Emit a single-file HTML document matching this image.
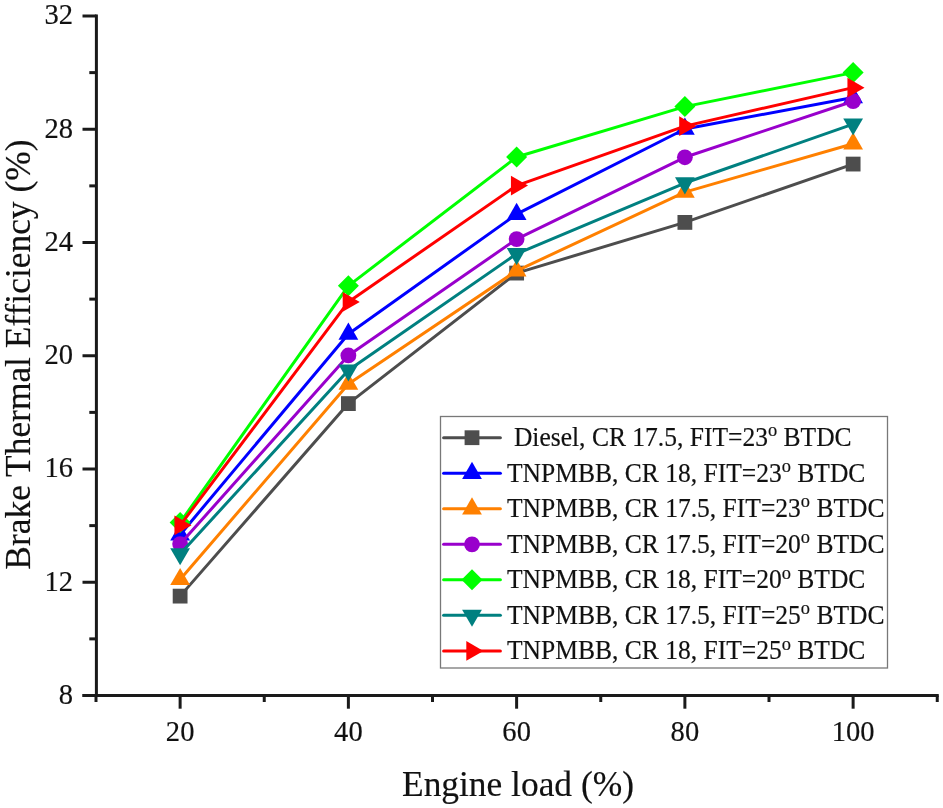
<!DOCTYPE html>
<html><head><meta charset="utf-8"><title>Brake Thermal Efficiency</title>
<style>
html,body{margin:0;padding:0;background:#fff;}
svg{display:block;filter:blur(0.4px);}
text{font-family:"Liberation Serif",serif;fill:#111;stroke:#111;stroke-width:0.18px;}
</style></head><body>
<svg width="943" height="808" viewBox="0 0 943 808">
<rect width="943" height="808" fill="#fff"/>
<g stroke="#1a1a1a" stroke-width="3" fill="none" stroke-linecap="butt">
<line x1="96.4" y1="14.5" x2="96.4" y2="697"/>
<line x1="82.5" y1="695.5" x2="938.75" y2="695.5"/>
<line x1="82.5" y1="695.50" x2="96.4" y2="695.50"/>
<line x1="89.3" y1="638.88" x2="96.4" y2="638.88"/>
<line x1="82.5" y1="582.25" x2="96.4" y2="582.25"/>
<line x1="89.3" y1="525.62" x2="96.4" y2="525.62"/>
<line x1="82.5" y1="469.00" x2="96.4" y2="469.00"/>
<line x1="89.3" y1="412.38" x2="96.4" y2="412.38"/>
<line x1="82.5" y1="355.75" x2="96.4" y2="355.75"/>
<line x1="89.3" y1="299.12" x2="96.4" y2="299.12"/>
<line x1="82.5" y1="242.50" x2="96.4" y2="242.50"/>
<line x1="89.3" y1="185.88" x2="96.4" y2="185.88"/>
<line x1="82.5" y1="129.25" x2="96.4" y2="129.25"/>
<line x1="89.3" y1="72.62" x2="96.4" y2="72.62"/>
<line x1="82.5" y1="16.00" x2="96.4" y2="16.00"/>
<line x1="96.00" y1="695.5" x2="96.00" y2="702"/>
<line x1="180.12" y1="695.5" x2="180.12" y2="708.7"/>
<line x1="264.25" y1="695.5" x2="264.25" y2="702"/>
<line x1="348.38" y1="695.5" x2="348.38" y2="708.7"/>
<line x1="432.50" y1="695.5" x2="432.50" y2="702"/>
<line x1="516.62" y1="695.5" x2="516.62" y2="708.7"/>
<line x1="600.75" y1="695.5" x2="600.75" y2="702"/>
<line x1="684.88" y1="695.5" x2="684.88" y2="708.7"/>
<line x1="769.00" y1="695.5" x2="769.00" y2="702"/>
<line x1="853.12" y1="695.5" x2="853.12" y2="708.7"/>
<line x1="937.25" y1="695.5" x2="937.25" y2="702"/>
</g>
<g font-size="29.4">
<text transform="translate(73,703.80) scale(0.972,1)" text-anchor="end">8</text>
<text transform="translate(73,590.55) scale(0.972,1)" text-anchor="end">12</text>
<text transform="translate(73,477.30) scale(0.972,1)" text-anchor="end">16</text>
<text transform="translate(73,364.05) scale(0.972,1)" text-anchor="end">20</text>
<text transform="translate(73,250.80) scale(0.972,1)" text-anchor="end">24</text>
<text transform="translate(73,137.55) scale(0.972,1)" text-anchor="end">28</text>
<text transform="translate(73,24.30) scale(0.972,1)" text-anchor="end">32</text>
<text transform="translate(180.12,740.8) scale(0.972,1)" text-anchor="middle">20</text>
<text transform="translate(348.38,740.8) scale(0.972,1)" text-anchor="middle">40</text>
<text transform="translate(516.62,740.8) scale(0.972,1)" text-anchor="middle">60</text>
<text transform="translate(684.88,740.8) scale(0.972,1)" text-anchor="middle">80</text>
<text transform="translate(853.12,740.8) scale(0.972,1)" text-anchor="middle">100</text>
</g>
<text x="518.0" y="795.8" font-size="35.4" text-anchor="middle">Engine load (%)</text>
<text transform="translate(29.7,354.6) rotate(-90)" font-size="35.4" text-anchor="middle">Brake Thermal Efficiency (%)</text>
<polyline points="180.12,596.12 348.38,403.60 516.62,273.08 684.88,222.40 853.12,164.07" fill="none" stroke="#4d4d4d" stroke-width="3.0" stroke-linejoin="round" stroke-linecap="round"/>
<rect x="172.72" y="588.72" width="14.80" height="14.80" fill="#4d4d4d"/>
<rect x="340.98" y="396.20" width="14.80" height="14.80" fill="#4d4d4d"/>
<rect x="509.23" y="265.68" width="14.80" height="14.80" fill="#4d4d4d"/>
<rect x="677.48" y="215.00" width="14.80" height="14.80" fill="#4d4d4d"/>
<rect x="845.73" y="156.67" width="14.80" height="14.80" fill="#4d4d4d"/>
<polyline points="180.12,534.68 348.38,333.95 516.62,214.19 684.88,128.97 853.12,97.54" fill="none" stroke="#0000ff" stroke-width="3.0" stroke-linejoin="round" stroke-linecap="round"/>
<polygon points="180.12,523.28 190.03,540.38 170.22,540.38" fill="#0000ff"/>
<polygon points="348.38,322.55 358.27,339.65 338.48,339.65" fill="#0000ff"/>
<polygon points="516.62,202.79 526.52,219.89 506.73,219.89" fill="#0000ff"/>
<polygon points="684.88,117.57 694.77,134.67 674.98,134.67" fill="#0000ff"/>
<polygon points="853.12,86.14 863.02,103.24 843.23,103.24" fill="#0000ff"/>
<polyline points="180.12,579.42 348.38,384.06 516.62,270.81 684.88,192.10 853.12,143.69" fill="none" stroke="#ff8000" stroke-width="3.0" stroke-linejoin="round" stroke-linecap="round"/>
<polygon points="180.12,568.02 190.03,585.12 170.22,585.12" fill="#ff8000"/>
<polygon points="348.38,372.66 358.27,389.76 338.48,389.76" fill="#ff8000"/>
<polygon points="516.62,259.41 526.52,276.51 506.73,276.51" fill="#ff8000"/>
<polygon points="684.88,180.70 694.77,197.80 674.98,197.80" fill="#ff8000"/>
<polygon points="853.12,132.29 863.02,149.39 843.23,149.39" fill="#ff8000"/>
<polyline points="180.12,544.03 348.38,355.47 516.62,239.10 684.88,157.28 853.12,101.22" fill="none" stroke="#9900cc" stroke-width="3.0" stroke-linejoin="round" stroke-linecap="round"/>
<circle cx="180.12" cy="544.03" r="7.9" fill="#9900cc"/>
<circle cx="348.38" cy="355.47" r="7.9" fill="#9900cc"/>
<circle cx="516.62" cy="239.10" r="7.9" fill="#9900cc"/>
<circle cx="684.88" cy="157.28" r="7.9" fill="#9900cc"/>
<circle cx="853.12" cy="101.22" r="7.9" fill="#9900cc"/>
<polyline points="180.12,522.51 348.38,285.82 516.62,157.00 684.88,106.60 853.12,72.62" fill="none" stroke="#00ff00" stroke-width="3.0" stroke-linejoin="round" stroke-linecap="round"/>
<polygon points="180.12,512.01 190.62,522.51 180.12,533.01 169.62,522.51" fill="#00ff00"/>
<polygon points="348.38,275.32 358.88,285.82 348.38,296.32 337.88,285.82" fill="#00ff00"/>
<polygon points="516.62,146.50 527.12,157.00 516.62,167.50 506.12,157.00" fill="#00ff00"/>
<polygon points="684.88,96.10 695.38,106.60 684.88,117.10 674.38,106.60" fill="#00ff00"/>
<polygon points="853.12,62.12 863.62,72.62 853.12,83.12 842.62,72.62" fill="#00ff00"/>
<polyline points="180.12,553.94 348.38,370.19 516.62,253.82 684.88,183.04 853.12,124.15" fill="none" stroke="#008080" stroke-width="3.0" stroke-linejoin="round" stroke-linecap="round"/>
<polygon points="180.12,565.34 190.03,548.24 170.22,548.24" fill="#008080"/>
<polygon points="348.38,381.59 358.27,364.49 338.48,364.49" fill="#008080"/>
<polygon points="516.62,265.22 526.52,248.12 506.73,248.12" fill="#008080"/>
<polygon points="684.88,194.44 694.77,177.34 674.98,177.34" fill="#008080"/>
<polygon points="853.12,135.55 863.02,118.45 843.23,118.45" fill="#008080"/>
<polyline points="180.12,525.34 348.38,301.96 516.62,185.59 684.88,126.14 853.12,87.63" fill="none" stroke="#ff0000" stroke-width="3.0" stroke-linejoin="round" stroke-linecap="round"/>
<polygon points="191.53,525.34 174.43,515.44 174.43,535.24" fill="#ff0000"/>
<polygon points="359.77,301.96 342.68,292.06 342.68,311.86" fill="#ff0000"/>
<polygon points="528.02,185.59 510.93,175.69 510.93,195.49" fill="#ff0000"/>
<polygon points="696.27,126.14 679.17,116.24 679.17,136.04" fill="#ff0000"/>
<polygon points="864.52,87.63 847.42,77.73 847.42,97.53" fill="#ff0000"/>
<rect x="440.5" y="416.5" width="447" height="251.5" fill="#fff" stroke="#787878" stroke-width="1.3"/>
<line x1="443.6" y1="437.70" x2="500.4" y2="437.70" stroke="#4d4d4d" stroke-width="3.0" stroke-linecap="round"/>
<rect x="464.60" y="430.30" width="14.80" height="14.80" fill="#4d4d4d"/>
<text transform="translate(513.9,446.20) scale(0.946,1)" font-size="27">Diesel, CR 17.5, FIT=23<tspan font-size="19.5" dy="-9.8">o</tspan><tspan dy="9.8"> BTDC</tspan></text>
<line x1="443.6" y1="473.23" x2="500.4" y2="473.23" stroke="#0000ff" stroke-width="3.0" stroke-linecap="round"/>
<polygon points="472.00,461.83 481.90,478.93 462.10,478.93" fill="#0000ff"/>
<text transform="translate(507.0,481.73) scale(0.946,1)" font-size="27">TNPMBB, CR 18, FIT=23<tspan font-size="19.5" dy="-9.8">o</tspan><tspan dy="9.8"> BTDC</tspan></text>
<line x1="443.6" y1="508.76" x2="500.4" y2="508.76" stroke="#ff8000" stroke-width="3.0" stroke-linecap="round"/>
<polygon points="472.00,497.36 481.90,514.46 462.10,514.46" fill="#ff8000"/>
<text transform="translate(507.0,517.26) scale(0.946,1)" font-size="27">TNPMBB, CR 17.5, FIT=23<tspan font-size="19.5" dy="-9.8">o</tspan><tspan dy="9.8"> BTDC</tspan></text>
<line x1="443.6" y1="544.29" x2="500.4" y2="544.29" stroke="#9900cc" stroke-width="3.0" stroke-linecap="round"/>
<circle cx="472.00" cy="544.29" r="7.9" fill="#9900cc"/>
<text transform="translate(507.0,552.79) scale(0.946,1)" font-size="27">TNPMBB, CR 17.5, FIT=20<tspan font-size="19.5" dy="-9.8">o</tspan><tspan dy="9.8"> BTDC</tspan></text>
<line x1="443.6" y1="579.82" x2="500.4" y2="579.82" stroke="#00ff00" stroke-width="3.0" stroke-linecap="round"/>
<polygon points="472.00,569.32 482.50,579.82 472.00,590.32 461.50,579.82" fill="#00ff00"/>
<text transform="translate(507.0,588.32) scale(0.946,1)" font-size="27">TNPMBB, CR 18, FIT=20<tspan font-size="19.5" dy="-9.8">o</tspan><tspan dy="9.8"> BTDC</tspan></text>
<line x1="443.6" y1="615.35" x2="500.4" y2="615.35" stroke="#008080" stroke-width="3.0" stroke-linecap="round"/>
<polygon points="472.00,626.75 481.90,609.65 462.10,609.65" fill="#008080"/>
<text transform="translate(507.0,623.85) scale(0.946,1)" font-size="27">TNPMBB, CR 17.5, FIT=25<tspan font-size="19.5" dy="-9.8">o</tspan><tspan dy="9.8"> BTDC</tspan></text>
<line x1="443.6" y1="650.88" x2="500.4" y2="650.88" stroke="#ff0000" stroke-width="3.0" stroke-linecap="round"/>
<polygon points="483.40,650.88 466.30,640.98 466.30,660.78" fill="#ff0000"/>
<text transform="translate(507.0,659.38) scale(0.946,1)" font-size="27">TNPMBB, CR 18, FIT=25<tspan font-size="19.5" dy="-9.8">o</tspan><tspan dy="9.8"> BTDC</tspan></text>
</svg></body></html>
